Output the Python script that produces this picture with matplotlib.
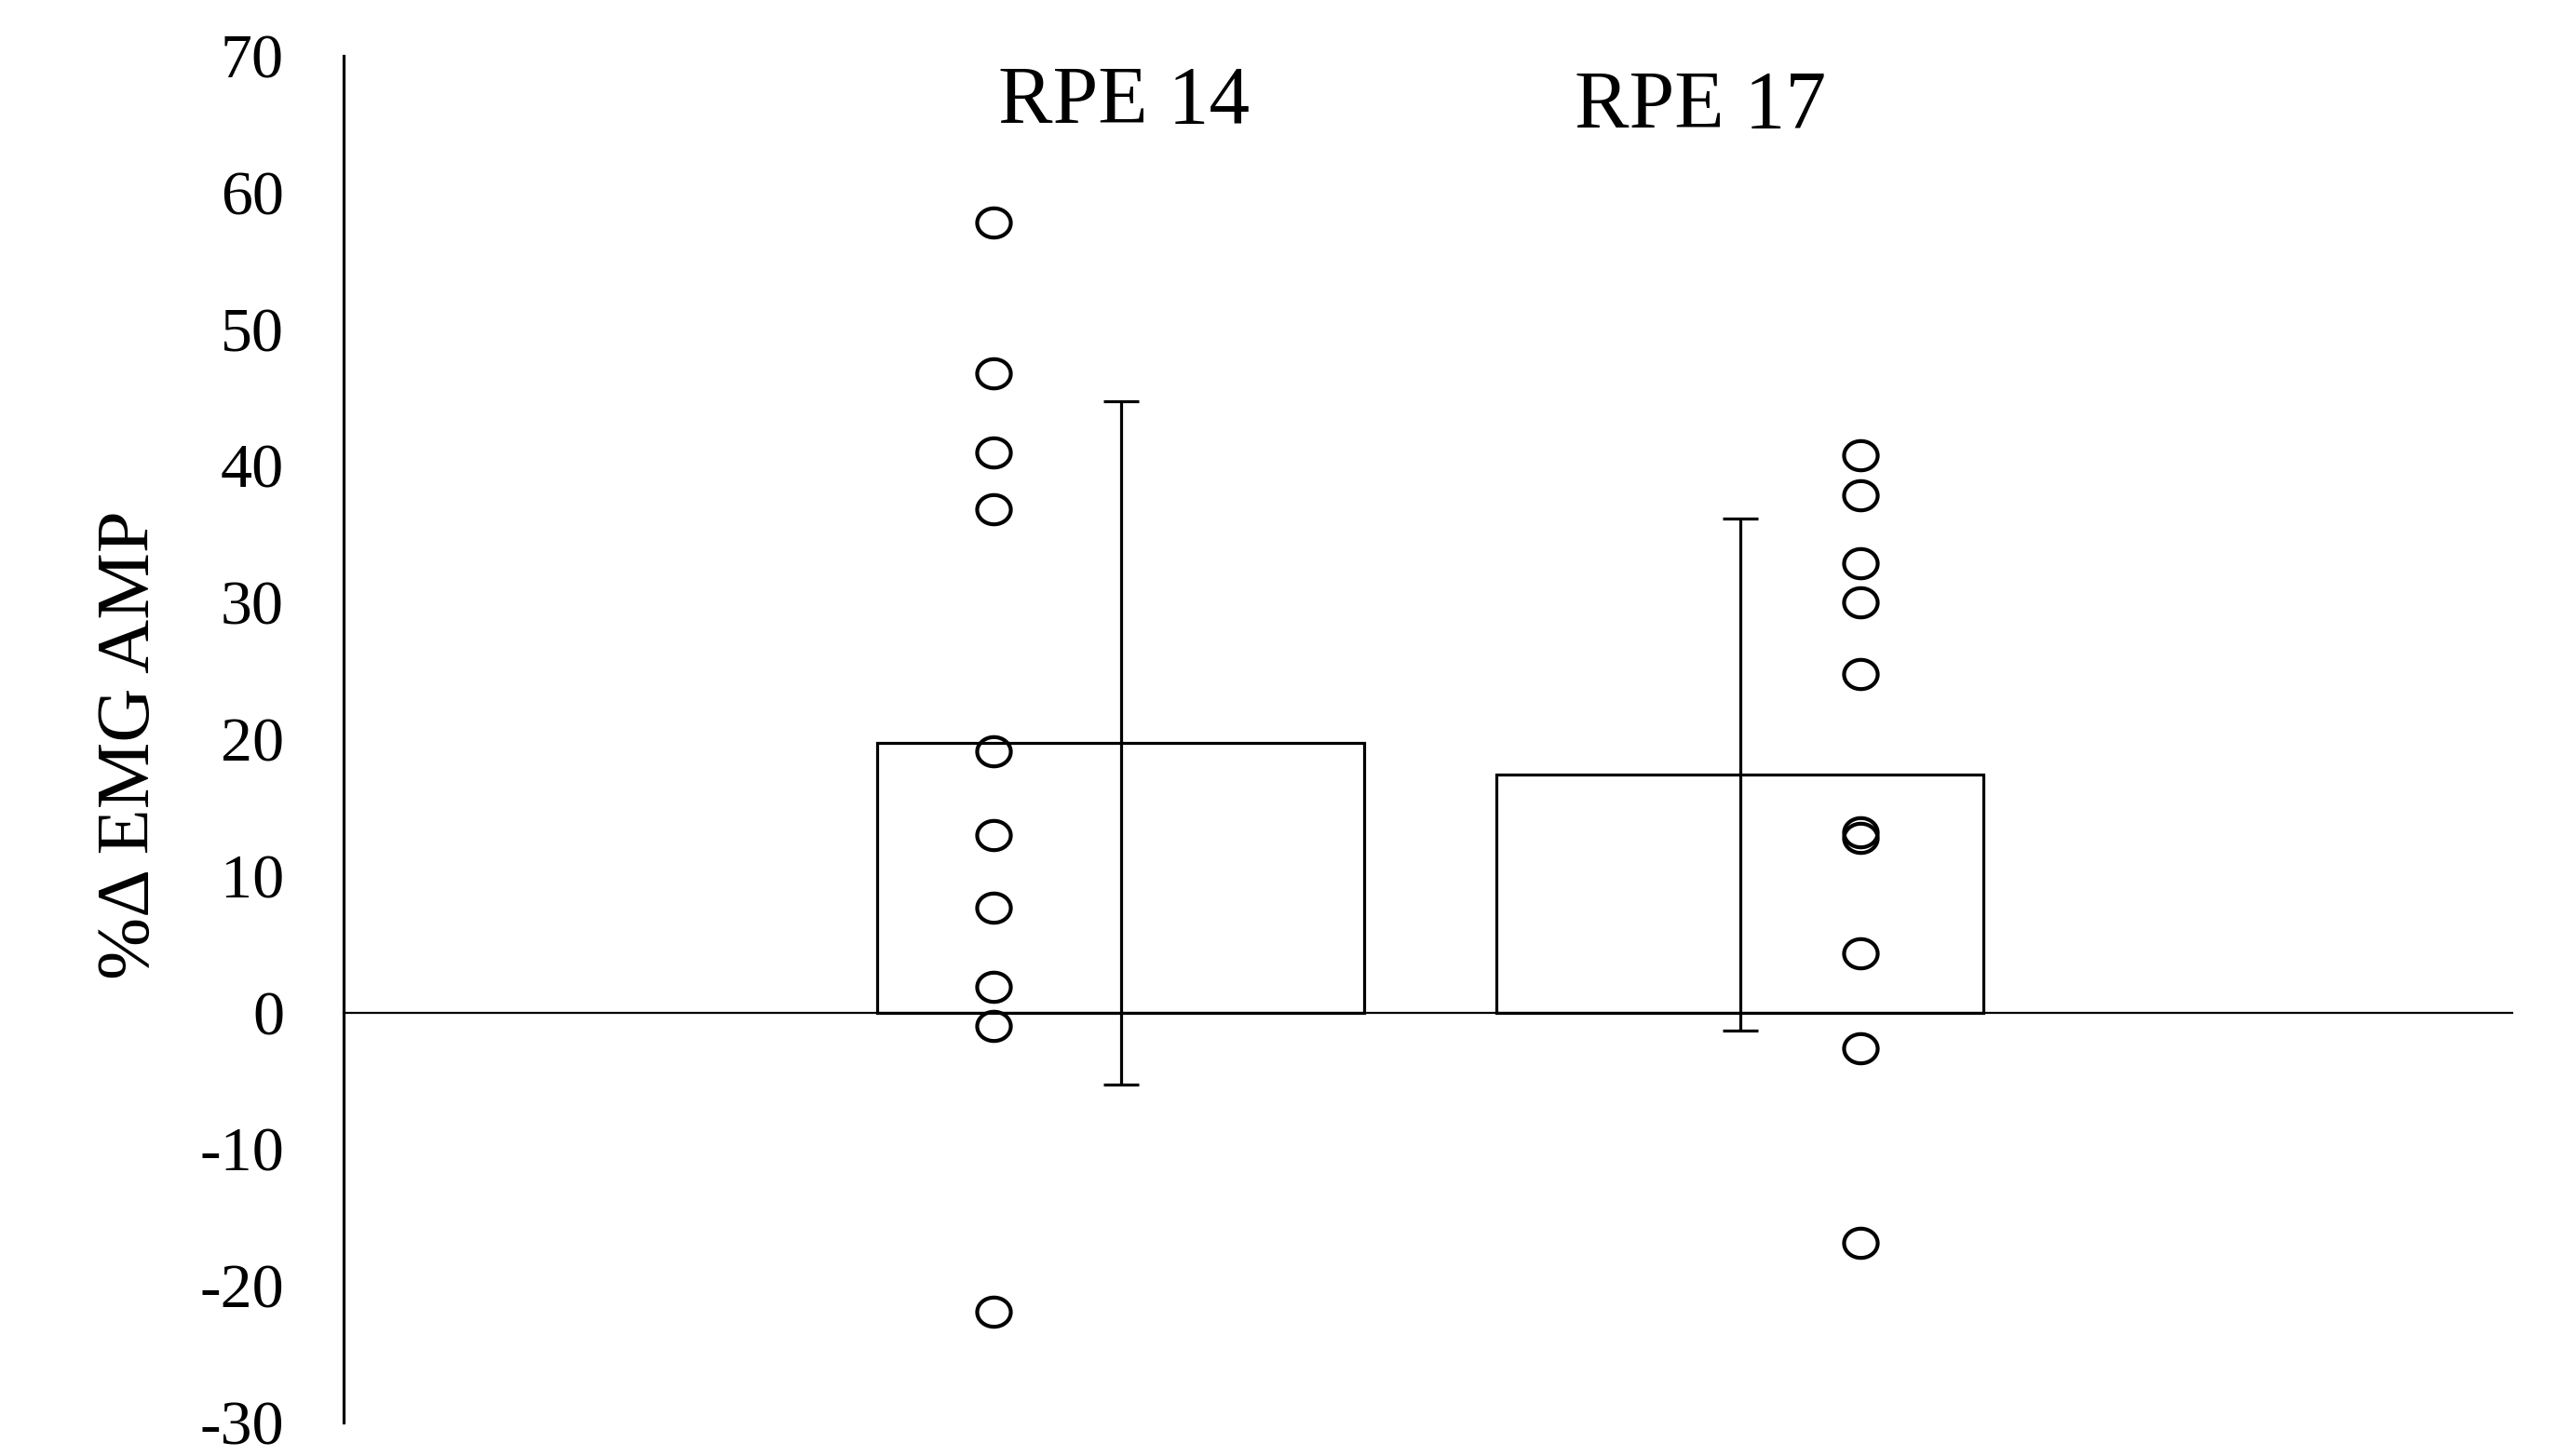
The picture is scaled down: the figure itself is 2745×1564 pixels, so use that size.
import numpy as np
import matplotlib
matplotlib.use("Agg")
import matplotlib.pyplot as plt
from matplotlib.path import Path

# ---- data ----
categories = ["RPE 14", "RPE 17"]
means = [19.7, 17.4]
sds = [25.0, 18.75]
rpe14_points = [57.8, 46.8, 41.0, 36.8, 19.1, 13.0, 7.7, 1.85, -0.97, -21.9]
rpe17_points = [40.8, 37.85, 32.85, 30.0, 24.8, 13.2, 12.75, 4.35, -2.6, -16.85]
y_ticks = [-30, -20, -10, 0, 10, 20, 30, 40, 50, 60, 70]
y_label = "%\u0394 EMG AMP"

plt.rcParams['font.family'] = ['Liberation Serif', 'DejaVu Serif']

fig = plt.figure(figsize=(27.45, 15.64), dpi=100)
ax = fig.add_axes([369 / 2745, 1 - 1528 / 1564, (2698 - 369) / 2745, (1528 - 60) / 1564])

x = np.arange(len(categories))
ax.bar(x, means, width=0.787, color="white", edgecolor="black", linewidth=2.3, zorder=1)
ax.errorbar(x, means, yerr=sds, fmt="none", ecolor="black", elinewidth=2.3,
            capsize=14, capthick=2.3, zorder=3)

# elliptical open marker (slightly wider than tall)
t = np.linspace(0, 2 * np.pi, 60)
ell = Path(np.column_stack([np.cos(t), 0.87 * np.sin(t)]), closed=True)

offsets = [-0.205, 0.195]
for xi, off, pts in zip(x, offsets, [rpe14_points, rpe17_points]):
    ax.plot(np.full(len(pts), xi + off), pts, linestyle="none", marker=ell,
            markersize=26, markerfacecolor="none", markeredgecolor="black",
            markeredgewidth=3.0, zorder=4)

ax.set_xlim(-1.2556, 2.2477)
ax.set_ylim(-30, 70)
ax.set_yticks(y_ticks)
ax.set_yticklabels([str(v) for v in y_ticks])
ax.tick_params(axis="y", length=0, pad=46, labelsize=49)
ax.set_xticks([])

for s in ["top", "right"]:
    ax.spines[s].set_visible(False)
ax.spines["left"].set_linewidth(2.3)
ax.spines["bottom"].set_position(("data", 0))
ax.spines["bottom"].set_linewidth(1.6)

ax.set_ylabel(y_label, fontsize=58)
ax.yaxis.set_label_coords(-0.098, 0.496)
ax.yaxis.label.set_verticalalignment("center")

# category labels above bars
fig.text(1207 / 2745, 1 - 132 / 1564, categories[0], ha="center", va="baseline", fontsize=63)
fig.text(1826 / 2745, 1 - 137 / 1564, categories[1], ha="center", va="baseline", fontsize=63)

fig.savefig("out.png", dpi=100, facecolor="white")
